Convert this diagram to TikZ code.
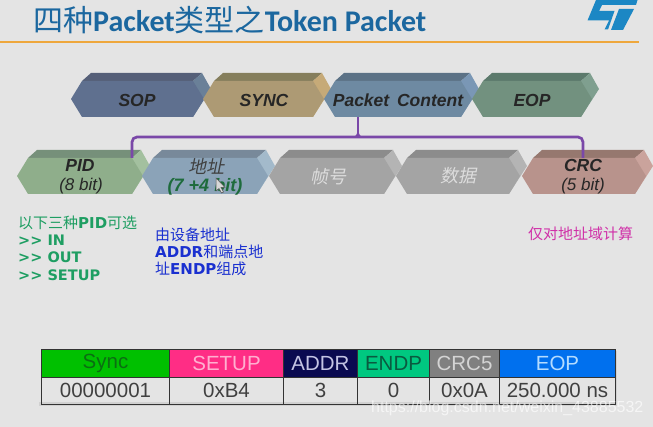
\documentclass[tikz,border=0pt]{standalone}
\usepackage{fontspec}
\setmainfont{Liberation Sans}
\newfontfamily\cjk{Noto Sans CJK SC}
\newfontfamily\cjkit[FakeSlant=0.2]{Noto Sans CJK SC}
\newfontfamily\titlefont{Carlito}
\newfontfamily\wide{DejaVu Sans}
\newcommand{\fs}[1]{\fontsize{#1}{#1}\selectfont}
\definecolor{bg}{HTML}{E4E4E4}
\definecolor{titleblue}{HTML}{1B679F}
\definecolor{rule}{HTML}{EEA73C}
\definecolor{stblue}{HTML}{1C87C4}
\definecolor{brk}{HTML}{7A48A8}
\definecolor{grn}{HTML}{1E9E62}
\definecolor{blu}{HTML}{1A30D0}
\definecolor{mag}{HTML}{D030A8}
\definecolor{cellline}{HTML}{333333}
\definecolor{addrgreen}{HTML}{1E6B3C}
\definecolor{ghost}{HTML}{DDDDDD}
\definecolor{cursorfill}{HTML}{D8D8D8}
\definecolor{cursorline}{HTML}{555555}
\tikzset{
  x=1pt,y=-1pt,
  hexlabel/.style={font=\fs{17.5}\bfseries\itshape,text=black!85,align=center,inner sep=0pt},
  sublabel/.style={font=\fs{17}\itshape,text=black!85,inner sep=0pt},
  cjklabel/.style={font=\fs{18}\cjkit,inner sep=0pt},
  bracket/.style={draw=brk,line width=2.7pt,rounded corners=5pt},
  note/.style={anchor=west,inner sep=0pt,font=\fs{14.5}\wide\bfseries},
  headcell/.style={draw=cellline,line width=1pt,inner sep=0pt,font=\fs{20.5}},
  valcell/.style={draw=cellline,line width=1pt,inner sep=0pt,font=\fs{20.5},text=black!75},
}
% \hexa{L}{R}{top}{ftop}{bot}{front}{topface}{side}
\newcommand{\hexa}[8]{%
  \pgfmathsetmacro{\cyy}{(#4+#5)/2}%
  \definecolor{hF}{HTML}{#6}\definecolor{hT}{HTML}{#7}\definecolor{hS}{HTML}{#8}%
  \fill[hT] (#1+11,#4) -- (#1+20,#3) -- (#2-2,#3) -- (#2-11,#4) -- cycle;
  \fill[hS] (#2-11,#4) -- (#2-2,#3) -- (#2+7,\cyy-10) -- (#2-11,#5) -- cycle;
  \fill[hF] (#1,\cyy) -- (#1+11,#4) -- (#2-11,#4) -- (#2,\cyy) -- (#2-11,#5) -- (#1+11,#5) -- cycle;
}
\begin{document}
\begin{tikzpicture}
\useasboundingbox (0,0) rectangle (653,427);
\fill[bg] (0,0) rectangle (653,427);
% title
\node[anchor=west,inner sep=0pt,text=titleblue] (title) at (33,20)
  {\fs{30}\cjk 四种\titlefont\bfseries Packet\cjk\mdseries 类型之\titlefont\bfseries Token Packet};
\fill[rule] (0,41) rectangle (639,43.5);
% logo
\fill[stblue] (596,0) -- (637.5,0) -- (636,5) -- (602,5) -- (599,11) -- (614.5,11) -- (608,29.5) -- (604.5,29.5) -- (609,20.5) -- (587.5,20.5) -- cycle;
\fill[stblue] (619,9) -- (634,9) -- (623,30) -- (611,30) -- cycle;
% top row
\hexa{71}{204}{73}{81}{117}{5F708F}{555F78}{6A8098}
\hexa{203}{324}{73}{81}{117}{AD9A74}{857E5C}{C6AA78}
\hexa{324}{472}{73}{81}{117}{6E8AA2}{5C7286}{7A97B5}
\hexa{472}{592}{73}{81}{117}{72917F}{5C7A6C}{7F9F8F}
\node[hexlabel] (sop) at (137,100) {SOP};
\node[hexlabel] (sync) at (264,100) {SYNC};
\node[hexlabel] (pc) at (398,100) {Packet\, Content};
\node[hexlabel] (eop) at (532,100) {EOP};
% second row
\hexa{17}{143}{150}{158}{194}{8FAE8B}{76907A}{A3C09F}
\hexa{142}{268}{150}{158}{194}{8BA3B8}{78899A}{A3BACB}
\hexa{269}{395}{150}{158}{194}{A4A4A4}{8C8C8C}{B4B4B4}
\hexa{396}{520}{150}{158}{194}{A4A4A4}{8C8C8C}{B4B4B4}
\hexa{522}{646}{150}{158}{194}{B8938C}{96786F}{CAA39C}
\node[hexlabel] (pid) at (80,165) {PID};
\node[sublabel] (pidb) at (81,186) {(8 bit)};
\node[cjklabel,text=black!75] (addr) at (206,166) {地址};
\node[sublabel,font=\fs{18}\bfseries\itshape,text=addrgreen] (addrb) at (205,187) {(7 +4 bit)};
\node[cjklabel,text=ghost] (frame) at (328,177) {帧号};
\node[cjklabel,text=ghost] (data) at (458,176) {数据};
\node[hexlabel] (crc) at (583,165) {CRC};
\node[sublabel] (crcb) at (583,186) {(5 bit)};
% bracket
\coordinate (bl) at (132,158);
\coordinate (br) at (583,158);
\coordinate (bt) at (358,117);
\coordinate (bj) at (358,137);
\draw[bracket] (bl) |- (bj) -| (br);
\draw[brk,line width=2.4pt] (bt) -- (bj);
\fill[brk] (354,137.6) .. controls (357,136) and (357.4,133) .. (357.4,128) -- (358.6,128) .. controls (358.6,133) and (359,136) .. (362,137.6) -- cycle;
% cursor
\fill[cursorfill,draw=cursorline,line width=.5pt] (216,178) -- (216,191) -- (219,188.5) -- (221.5,193) -- (223.5,192) -- (221,187.5) -- (225,187.5) -- cycle;
% notes
\node[note,text=grn] (n1) at (18,223) {\fs{15}\cjk\mdseries 以下三种\wide\bfseries PID\cjk\mdseries 可选};
\node[note,text=grn] (n2) at (18,240) {>> IN};
\node[note,text=grn] (n3) at (18,257) {>> OUT};
\node[note,text=grn] (n4) at (18,275) {>> SETUP};
\node[note,text=blu] (a1) at (155,235) {\fs{15}\cjk\mdseries 由设备地址};
\node[note,text=blu] (a2) at (155,252) {\fs{15}ADDR\cjk\mdseries 和端点地};
\node[note,text=blu] (a3) at (155,269) {\fs{15}\cjk\mdseries 址\wide\bfseries ENDP\cjk\mdseries 组成};
\node[note,text=mag] (c1) at (528,234) {\fs{15}\cjk\mdseries 仅对地址域计算};
% table
\fill[black!18] (39,402) rectangle (617,405.5);
\fill[black!18] (615,351) rectangle (617,405);
\foreach \nm/\xa/\xb/\hc/\tc/\hdtxt/\valtxt in {
  a/41/169/00C000/0B6E12/Sync/00000001,
  b/169/283/FF2D85/FFB0D0/SETUP/0xB4,
  c/283/357/0A0A50/C4C4E4/ADDR/3,
  d/357/429/00C880/0A5A40/ENDP/0,
  e/429/499/808080/D4D4D4/CRC5/0x0A,
  f/499/615/0070EE/B4DCFF/EOP/250.000 ns}{
  \edef\tmpdef{\noexpand\definecolor{cellfill}{HTML}{\hc}\noexpand\definecolor{celltext}{HTML}{\tc}}\tmpdef
  \node[headcell,fill=cellfill,text=celltext,minimum width={\xb-\xa},minimum height=27,anchor=north west] (h\nm) at (\xa,349.5) {\hdtxt};
  \node[valcell,minimum width={\xb-\xa},minimum height=27,anchor=north west] (v\nm) at (\xa,376.5) {\valtxt};
}
% watermark
\node[anchor=west,inner sep=0pt,text=white,opacity=.65,font=\fs{16}] (wm) at (371,408) {https://blog.csdn.net/weixin\_43885532};
\end{tikzpicture}
\end{document}
